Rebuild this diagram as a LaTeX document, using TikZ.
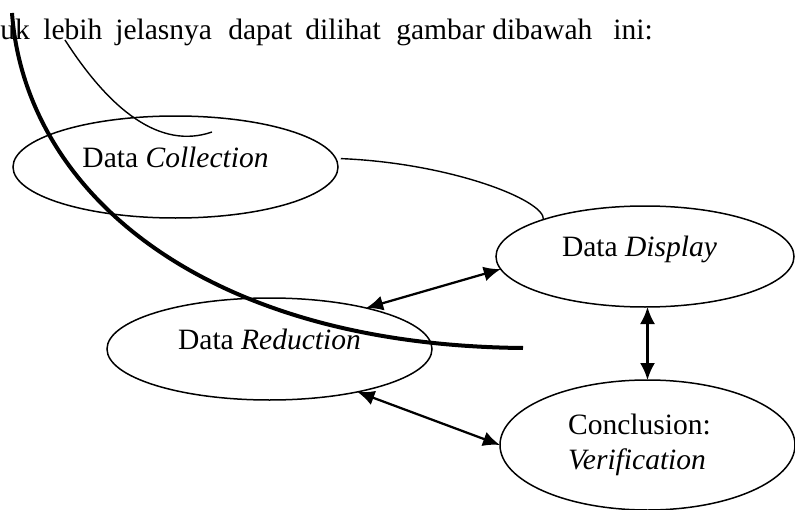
\documentclass[tikz,border=0pt]{standalone}
\usepackage{fontspec}
\setmainfont{Liberation Serif}
\usetikzlibrary{shapes.geometric,arrows.meta}

\begin{document}
\begin{tikzpicture}[
    every node/.style={font=\fontsize{16.8}{20}\selectfont, inner sep=0pt},
    stage/.style={draw, ellipse, line width=0.03cm, outer sep=0pt},
    word/.style={anchor=base west},
    link/.style={{Latex[length=0.34cm,width=0.30cm]}-{Latex[length=0.34cm,width=0.30cm]}, line width=0.045cm},
    hand/.style={line width=0.028cm},
    stroke/.style={line width=0.08cm}
  ]
  \useasboundingbox (0,0) rectangle (15.90,10.18);

  % Line of text above the drawing
  \foreach \x/\w [count=\i] in {0.00/uk, 0.86/lebih, 2.30/jelasnya, 4.56/dapat,
                                6.10/dilihat, 7.92/gambar, 9.84/dibawah, 12.26/ini:}
    \node[word] (w\i) at (\x,9.38) {\w};

  % Drawing the four ellipses
  \node[stage, minimum width=6.50cm, minimum height=2.04cm] (coll) at (3.51,6.84) {};
  \node[stage, minimum width=5.96cm, minimum height=2.02cm] (disp) at (12.90,5.05) {};
  \node[stage, minimum width=6.50cm, minimum height=2.04cm] (red) at (5.39,3.20) {};
  \node[stage, minimum width=5.90cm, minimum height=2.60cm] (conc) at (12.95,1.28) {};

  % Texts inside the ellipses
  \node[anchor=base] (collText) at (coll.center) {Data \textit{Collection}};
  \node[anchor=base, xshift=-0.11cm] (dispText) at (disp.center) {Data \textit{Display}};
  \node[anchor=base] (redText) at (red.center) {Data \textit{Reduction}};
  \node[align=left, xshift=-0.16cm] (concText) at (conc.center) {Conclusion:\\\textit{Verification}};

  % Double arrows between the stages
  \draw[link] (red.23) -- (disp.185);
  \draw[link] (red.-26) -- (conc.180);
  \draw[link] (conc.north |- disp.south) -- (conc.north);

  % Thin curve from Collection to Display
  \draw[hand] ([xshift=0.1cm]coll.3) .. controls (9.00,6.92) and (10.90,6.18) .. (disp.160);

  % Thin hook below the text
  \coordinate (hookA) at (1.30,9.38);
  \coordinate (hookB) at (4.24,7.54);
  \draw[hand] (hookA) .. controls (2.20,7.98) and (3.20,7.18) .. (hookB);

  % Thick sweep across the drawing
  \coordinate (sweepA) at (0.24,9.92);
  \coordinate (sweepB) at (10.46,3.22);
  \draw[stroke] (sweepA) .. controls (0.50,6.38) and (4.00,3.28) .. (sweepB);
\end{tikzpicture}
\end{document}
